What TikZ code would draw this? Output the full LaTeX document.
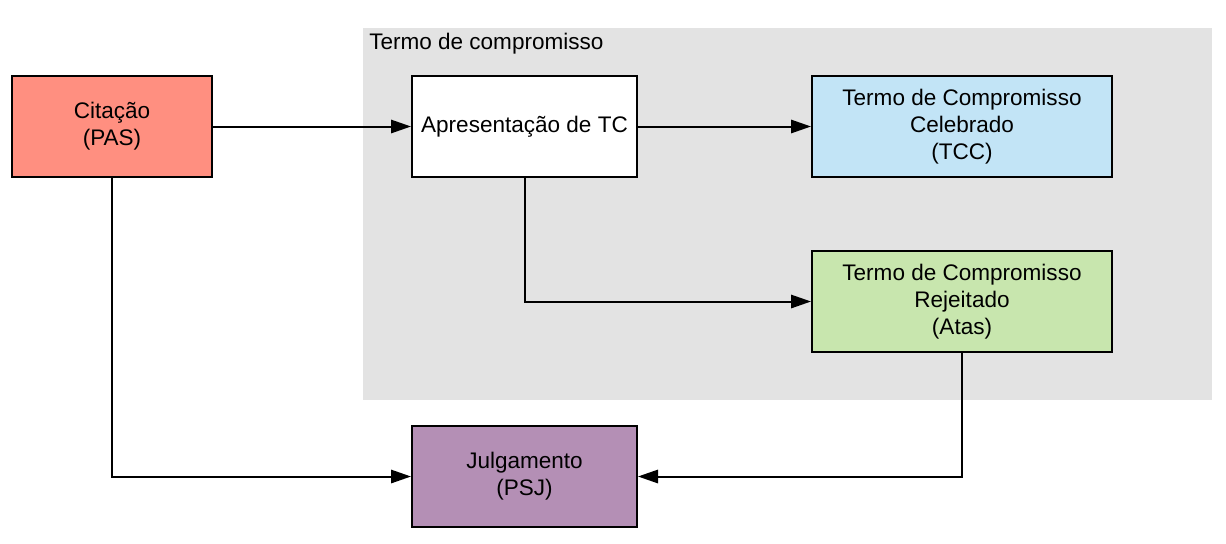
\documentclass[tikz,border=0pt]{standalone}
\usepackage{fontspec}
\setmainfont{Liberation Sans}
\usepackage{xcolor}
\usetikzlibrary{arrows.meta}
\usetikzlibrary{positioning}

\definecolor{citacao}{RGB}{255,143,128}
\definecolor{celebrado}{RGB}{194,228,246}
\definecolor{rejeitado}{RGB}{200,230,174}
\definecolor{julgamento}{RGB}{180,143,181}
\definecolor{grupo}{RGB}{227,227,227}

\tikzset{
  etapa/.style={draw=black, line width=1.5pt, minimum height=75.75pt, align=center, inner sep=0pt, font=\fontsize{16.9}{20.3}\selectfont},
  fluxo/.style={line width=1.5pt, -{Triangle[length=15pt,width=10pt]}},
}

\begin{document}
\begin{tikzpicture}[x=0.75pt,y=0.75pt,yscale=-1,xscale=1]
\useasboundingbox (0,0) rectangle (1226,543);

%Shape: Rectangle [grupo]
\fill [grupo] (363,28) rectangle (1212,400);
% Text Node
\node (rotulo) at (369,44) [anchor=west, inner sep=0pt, font=\fontsize{16.9}{20.3}\selectfont] {Termo de compromisso};

%Shape: Rectangle [citacao]
\node (cit) at (112,126.5) [etapa, fill=citacao, minimum width=150pt] {Citação\\(PAS)};
%Shape: Rectangle [apresentacao]
\node (apr) at (524.5,126.5) [etapa, fill=white, minimum width=168.75pt] {Apresentação de TC};
%Shape: Rectangle [celebrado]
\node (tcc) at (962,126.5) [etapa, fill=celebrado, minimum width=225pt] {Termo de Compromisso\\Celebrado\\(TCC)};
%Shape: Rectangle [rejeitado]
\node (rej) at (962,301.5) [etapa, fill=rejeitado, minimum width=225pt] {Termo de Compromisso\\Rejeitado\\(Atas)};
%Shape: Rectangle [julgamento]
\node (julg) at (524.5,476.5) [etapa, fill=julgamento, minimum width=168.75pt] {Julgamento\\(PSJ)};

%Straight Lines
\draw [fluxo] (cit) -- (apr);
\draw [fluxo] (apr) -- (tcc);
\draw [fluxo] (apr.south) |- (rej.west);
\draw [fluxo] (cit.south) |- (julg.west);
\draw [fluxo] (rej.south) |- (julg.east);

\end{tikzpicture}
\end{document}
